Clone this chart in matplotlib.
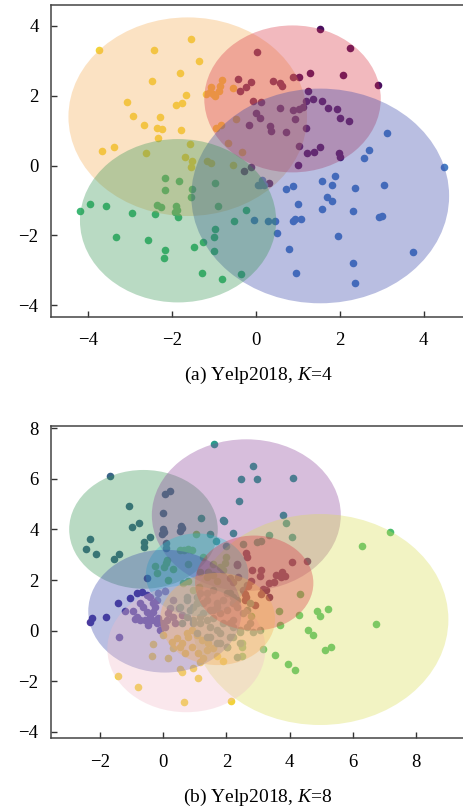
import matplotlib
matplotlib.use("Agg")
import matplotlib.pyplot as plt
from matplotlib.patches import Ellipse

plt.rcParams["font.family"] = ["Liberation Serif", "DejaVu Serif"]
plt.rcParams["mathtext.fontset"] = "custom"
plt.rcParams["mathtext.rm"] = "Liberation Serif"
plt.rcParams["mathtext.it"] = "Liberation Serif:italic"

# ---- (a) Yelp2018, K=4 ----
a_yellow_x = [-3.74, -1.54, -2.44, -1.37, -1.81, -2.47, -3.08, -1.68, -1.92, -1.77, -2.94, -2.28,
              -2.67, -2.37, -2.24, -1.79, -2.35, -3.67, -3.40, -2.63, -1.58, -1.69, -1.53, -1.54,
              -1.16, -1.08, -0.55, -0.34, -0.67, -0.83, -0.95, -0.47, -0.82, -0.85, -1.08, -1.09,
              -1.19, -1.02, -0.98, -0.88, -0.56]
a_yellow_y = [3.31, 3.64, 3.30, 2.99, 2.65, 2.43, 1.82, 2.01, 1.73, 1.80, 1.41, 1.38,
              1.15, 1.07, 1.05, 1.02, 0.79, 0.43, 0.53, 0.37, 0.61, 0.24, 0.14, -0.03,
              0.14, 0.07, 0.03, 0.39, 0.65, 1.17, 1.09, 1.33, 2.46, 2.28, 2.24, 2.11,
              2.05, 2.04, 1.98, 2.14, 2.22]
a_purple_x = [1.53, 2.24, 0.02, 1.28, 2.07, 2.90, 0.89, 1.03, -0.42, -0.13, -0.25, -0.39,
              0.40, 0.56, 0.62, 1.25, -0.08, 0.12, 1.18, 1.37, 1.57, 1.71, 1.92, 2.01,
              2.22, 0.57, 0.88, 1.02, 1.11, -0.01, 0.10, 0.34, 0.36, -0.18, 0.71, 0.92,
              1.18, 1.02, 1.22, 1.38, 1.53, 1.99, 2.00, 1.01, -0.13, -0.29, 0.32]
a_purple_y = [3.90, 3.36, 3.24, 2.66, 2.59, 2.31, 2.53, 2.53, 2.49, 2.40, 2.25, 2.13,
              2.42, 2.38, 2.28, 2.15, 1.86, 1.81, 1.86, 1.92, 1.86, 1.65, 1.63, 1.37,
              1.27, 1.64, 1.58, 1.62, 1.69, 1.50, 1.36, 1.14, 1.00, 1.17, 0.96, 1.33,
              1.07, 0.55, 0.35, 0.39, 0.54, 0.37, 0.26, 0.02, -0.03, -0.16, -0.50]
a_blue_x = [3.13, 2.70, 2.57, 4.49, 1.89, 1.58, 1.81, 2.35, 3.04, 0.87, 0.72, 1.69,
            1.80, 1.00, 1.58, 2.32, 2.94, 3.00, 0.87, 0.92, 1.08, 0.46, 0.28, -0.05,
            0.49, 1.95, 0.78, 3.75, 2.31, 0.96, 2.37, 0.13, 0.09, 0.18, 0.04]
a_blue_y = [0.92, 0.46, 0.21, -0.04, -0.31, -0.45, -0.57, -0.63, -0.56, -0.58, -0.66, -0.89,
            -1.01, -1.09, -1.23, -1.29, -1.46, -1.45, -1.58, -1.53, -1.52, -1.60, -1.60, -1.56,
            -1.94, -2.02, -2.40, -2.48, -2.79, -3.09, -3.36, -0.42, -0.56, -0.57, -0.57]
a_green_x = [-4.19, -3.96, -3.57, -2.95, -3.33, -2.58, -2.40, -2.36, -2.27, -2.18, -2.16, -1.84,
             -1.91, -1.89, -1.93, -1.86, -1.52, -1.56, -0.99, -0.91, -2.16, -2.20, -1.48, -1.26,
             -1.01, -0.98, -1.01, -1.30, -0.82, -0.37, -0.52, -0.24]
a_green_y = [-1.30, -1.10, -1.17, -1.37, -2.05, -2.12, -1.38, -1.12, -1.20, -0.37, -0.71, -0.44,
             -1.16, -1.27, -1.33, -1.46, -0.67, -0.89, -0.49, -1.16, -2.41, -2.66, -2.33, -2.20,
             -2.06, -1.82, -2.45, -3.08, -3.25, -3.10, -1.60, -1.27]
a_pt_colors = ["#f2d23c", "#4a0f5e", "#4a7ec4", "#3db774"]
a_circ_x = [-1.63, 0.87, 1.53, -1.86]
a_circ_y = [1.40, 1.91, -0.87, -1.58]
a_circ_d = [5.69, 4.21, 6.15, 4.68]
a_circ_colors = ["#f6ac54", "#da3745", "#3745a9", "#379554"]

# ---- (b) Yelp2018, K=8 ----
b_indigo_x = [-2.32, -2.26, -1.81, -1.41, -1.44, -1.07, -0.83, -0.68, -0.52, -1.22, -0.95, -0.84,
              -0.90, -0.74, -0.63, -0.53, -0.74, -0.58, -0.48, -0.37, -0.32, -0.26, -0.21, -0.16,
              -0.42, -0.32, -0.42, -0.16, -0.21, -0.05, -0.11, 0.05, 0.11, 0.16, 0.21, 0.32,
              0.37, -0.52, 0.05, 0.30, 0.50, 0.60]
b_indigo_y = [0.33, 0.51, 0.53, -0.25, 1.11, 1.30, 1.47, 1.53, 1.42, 0.79, 0.79, 0.55,
              0.47, 1.08, 0.95, 0.75, 0.42, 0.42, 0.23, 0.42, 0.75, 0.95, 1.21, 1.47,
              1.34, 1.08, 0.55, 0.49, 0.29, 0.29, 0.03, 0.16, 0.42, 0.68, 0.88, 0.55,
              0.29, 2.07, 1.55, 1.20, 0.90, 0.60]
b_slate_x = [-1.69, -1.09, -1.00, -0.78, -2.34, -2.45, -2.14, -1.55, -1.39, -0.61, -0.61, -0.42,
             0.06, 0.21, -0.02, -0.01, 0.02, -0.03, 0.56, 0.58, 0.54, 0.08, 0.08]
b_slate_y = [6.09, 4.93, 4.11, 4.25, 3.62, 3.22, 3.03, 2.84, 3.03, 3.49, 3.32, 3.70,
             5.41, 5.53, 4.66, 4.02, 3.91, 3.83, 4.14, 4.04, 3.92, 3.45, 3.25]
b_teal_x = [1.61, 2.84, 2.45, 2.98, 4.11, 2.39, 3.79, 3.88, 4.09, 3.35, 1.90, 1.93,
            2.20, 1.19, 1.49, 1.68, 2.53, 2.97, 3.09, 1.99]
b_teal_y = [7.37, 6.50, 5.97, 6.00, 6.01, 5.13, 4.58, 4.25, 3.71, 3.79, 4.37, 4.32,
            3.84, 4.46, 3.80, 3.55, 3.43, 3.51, 3.54, 3.34]
b_lime_x = [-0.27, 0.07, 0.13, 0.01, -0.21, 0.30, 0.53, 0.64, 0.90, 0.79, 1.05, 0.77,
            1.27, 0.16, 0.63, 0.77, 0.95, 1.13, 1.58, 1.80, 1.90, 1.37, 1.58, 1.16,
            1.43, 1.69, 2.00, 1.96]
b_lime_y = [2.54, 2.67, 2.79, 2.53, 2.28, 2.44, 3.19, 3.17, 3.17, 3.22, 3.83, 2.65,
            2.92, 2.00, 1.87, 1.97, 1.60, 1.74, 2.65, 2.53, 2.40, 2.12, 2.18, 2.32,
            2.32, 1.98, 2.92, 2.66]
b_maroon_x = [2.62, 2.66, 2.34, 2.82, 3.09, 3.58, 3.75, 3.73, 3.85, 3.51, 4.07, 4.55,
              3.06, 2.78, 2.69, 3.16, 3.24, 3.36, 3.09, 3.36, 2.60, 2.62, 2.59, 2.89,
              2.10, 2.22, 2.38, 2.32, 2.64, 2.53]
b_maroon_y = [3.07, 2.92, 2.60, 2.38, 2.38, 2.20, 2.32, 2.11, 2.16, 1.94, 2.70, 2.75,
              2.14, 1.96, 1.75, 1.65, 1.61, 1.87, 1.45, 1.33, 1.46, 1.31, 1.21, 1.01,
              2.09, 1.93, 2.13, 2.63, 1.80, 1.61]
b_green_x = [7.18, 6.29, 6.74, 4.88, 4.95, 5.21, 4.32, 4.31, 3.66, 3.69, 4.57, 4.74,
             5.11, 5.31, 3.55, 3.95, 4.18, 3.15, 2.50, 2.48, 2.49, 2.78]
b_green_y = [3.88, 3.34, 0.28, 0.79, 0.58, 0.86, 1.46, 0.62, 0.76, 0.21, 0.04, -0.16,
             -0.78, -0.63, -0.96, -1.32, -1.55, -0.72, -0.49, -0.63, -1.02, 0.59]
b_yellow_x = [-1.44, -0.80, 0.64, 2.15, 1.09, 0.94, 0.53, 0.60, -0.35, 0.16, -0.33, 1.88,
              0.00, 0.26, 0.42, 0.58, 0.74, 0.90, 1.06, 1.21, 0.90, 1.11, 1.27, 1.37,
              0.69, 0.53, 0.32, 1.16, 1.69, 1.58, 1.43, 0.79]
b_yellow_y = [-1.80, -2.24, -2.83, -2.76, -1.86, -1.46, -1.50, -1.63, -0.99, -1.08, -0.53, -1.20,
              -0.17, -0.43, -0.30, -0.50, -0.11, 0.03, -0.17, -0.37, -0.63, -0.89, -1.09, -0.76,
              -0.89, -0.63, -0.70, -1.22, -1.02, -0.70, -0.50, -0.24]
b_gray_x = [0.74, 1.06, 1.37, 1.69, 2.01, 1.27, 1.58, 1.90, 2.22, 1.48, 1.16, 1.80,
            2.11, 2.43, 1.69, 2.01, 2.33, 2.64, 2.54, 2.75, 2.33, 2.11, 1.58, 1.16,
            0.85, 0.95, 2.85, 2.43, 3.06, 1.37, 1.06, 1.90, 1.48, 1.80, 2.22, 2.22,
            2.32, 2.64, 2.75, 2.43, 2.22, 2.01, 1.80, 2.11, 1.69, 1.48, 1.37, 1.58,
            1.16, 0.95, 0.74, 0.95, 1.27, 1.69, 2.01, 2.22, 1.37, 1.06, 0.74, 0.53, 0.58]
b_gray_y = [1.34, 1.08, 1.21, 0.95, 0.82, 0.69, 0.49, 0.29, 0.16, 0.16, 0.29, -0.10,
            -0.24, -0.50, -0.50, -0.63, -1.03, 0.16, 0.69, 1.08, 1.21, 1.48, 1.61, 1.48,
            0.82, 0.42, -0.04, -0.04, 0.03, -0.24, -0.10, 1.21, 0.82, 0.69, 0.42, 1.08,
            0.95, 0.82, 0.29, 0.03, -0.24, -0.63, -0.50, 0.29, 0.03, -0.24, 0.42, 0.82,
            0.55, 0.29, 0.55, 0.95, 1.08, 1.08, 1.47, 1.34, 1.47, 1.34, 1.21, 0.95, 0.29]
b_pt_colors = ["#4b3a9e", "#3a6488", "#2a9c8c", "#8ccc52", "#4a0a4e", "#4cbd6c", "#f2d23c", "#3c8a8e"]
b_circ_x = [-0.63, 2.63, 4.97, 1.07, 0.05, 0.73, 2.88, 1.72]
b_circ_y = [4.00, 4.56, 0.44, 2.21, 0.77, -0.72, 1.88, 0.46]
b_circ_w = [4.71, 5.99, 8.13, 3.25, 4.86, 5.01, 3.75, 3.64]
b_circ_h = [4.69, 5.99, 8.33, 3.26, 4.85, 5.00, 3.75, 3.64]
b_circ_colors = ["#379554", "#8d459b", "#dadd54", "#22c4cf", "#3745a9", "#f1bdc9", "#da3745", "#f6ac54"]


def style_axes(ax, xticks, yticks):
    ax.set_xticks(xticks)
    ax.set_yticks(yticks)
    ax.tick_params(direction="in", length=4, width=1.0, color="#333333", labelsize=13.5)
    ax.tick_params(axis="x", pad=11)
    ax.tick_params(axis="y", pad=9)
    for side in ["left", "bottom", "top"]:
        ax.spines[side].set_color("#444444")
        ax.spines[side].set_linewidth(1.1)
    ax.spines["right"].set_visible(False)


fig = plt.figure(figsize=(4.64, 8.09), dpi=100)

ax1 = fig.add_axes([0.110, 0.6085, 0.89, 0.3853])
a_groups = [(a_yellow_x, a_yellow_y), (a_purple_x, a_purple_y),
            (a_blue_x, a_blue_y), (a_green_x, a_green_y)]
for (xs, ys), c in zip(a_groups, a_pt_colors):
    ax1.scatter(xs, ys, s=30, color=c, linewidths=0, zorder=1)
for cx, cy, d, c in zip(a_circ_x, a_circ_y, a_circ_d, a_circ_colors):
    ax1.add_patch(Ellipse((cx, cy), d, d, facecolor=c, edgecolor="none", alpha=0.35, zorder=2))
ax1.set_xlim(-4.89, 4.96)
ax1.set_ylim(-4.33, 4.6)
style_axes(ax1, [-4, -2, 0, 2, 4], [-4, -2, 0, 2, 4])
fig.text(0.556, 1 - 375 / 809, "(a) Yelp2018, $K$=4", ha="center", va="center", fontsize=14)

ax2 = fig.add_axes([0.110, 0.0874, 0.89, 0.386])
b_groups = [(b_indigo_x, b_indigo_y), (b_slate_x, b_slate_y), (b_teal_x, b_teal_y),
            (b_lime_x, b_lime_y), (b_maroon_x, b_maroon_y), (b_green_x, b_green_y),
            (b_yellow_x, b_yellow_y), (b_gray_x, b_gray_y)]
for (xs, ys), c in zip(b_groups, b_pt_colors):
    ax2.scatter(xs, ys, s=30, color=c, linewidths=0, zorder=1)
for cx, cy, w, h, c in zip(b_circ_x, b_circ_y, b_circ_w, b_circ_h, b_circ_colors):
    ax2.add_patch(Ellipse((cx, cy), w, h, facecolor=c, edgecolor="none", alpha=0.35, zorder=2))
ax2.set_xlim(-3.56, 9.53)
ax2.set_ylim(-4.25, 8.08)
style_axes(ax2, [-2, 0, 2, 4, 6, 8], [-4, -2, 0, 2, 4, 6, 8])
fig.text(0.556, 1 - 797 / 809, "(b) Yelp2018, $K$=8", ha="center", va="center", fontsize=14)

fig.savefig("out.png", dpi=100)
